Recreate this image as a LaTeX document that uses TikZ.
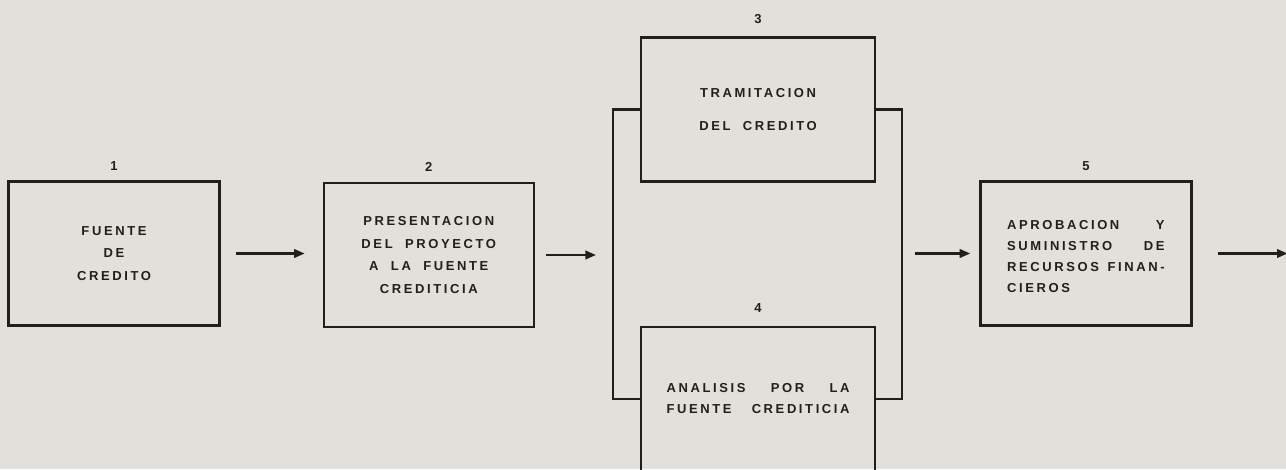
\documentclass[tikz,border=0pt]{standalone}
\usepackage{fontspec}
\newfontfamily\boxfont[LetterSpace=20, WordSpace=2]{Liberation Sans}
\usetikzlibrary{arrows.meta, positioning}

\definecolor{paper}{RGB}{226,224,218}
\definecolor{ink}{RGB}{32,31,29}

\begin{document}
\begin{tikzpicture}[
    node distance=2.1cm,
    stage/.style={rectangle, draw=ink, line width=1.3pt, minimum width=4.22cm, minimum height=2.88cm, align=center, text=ink, font=\boxfont\bfseries\fontsize{7.4}{13}\selectfont},
    wide/.style={stage, minimum width=4.68cm},
    num/.style={text=ink, inner sep=1pt, font=\boxfont\bfseries\fontsize{7.4}{9}\selectfont},
    arrow/.style={draw=ink, line width=1.2pt, -{Triangle[length=2.1mm, width=1.7mm]}},
    bracket/.style={draw=ink, line width=1.3pt}
    ]

    % Page
    \fill[paper] (0,0) rectangle (25.72,-9.38);
    \useasboundingbox (0,0) rectangle (25.72,-9.38);

    % Stages
    \node (fuente) [stage] at (2.28,-5.07) {FUENTE\\DE\\CREDITO};
    \node (present) [stage, right=2.04cm of fuente, yshift=-0.03cm, minimum width=4.2cm] {PRESENTACION\\DEL PROYECTO\\A LA FUENTE\\CREDITICIA};
    \node (tramite) [wide, right=2.1cm of present, yshift=2.91cm] {TRAMITACION\\[6pt]DEL CREDITO};
    \node (analisis) [wide, below=2.86cm of tramite, text width=3.66cm, align=left] {ANALISIS\hfill POR\hfill LA\\[-1pt]FUENTE\hfill CREDITICIA};
    \node (aprob) [stage, anchor=west, text width=3.15cm, align=left] at ([xshift=2.06cm]analisis.east |- fuente.east) {\rule{0pt}{9pt}APROBACION\hfill Y\\[-1pt]SUMINISTRO\hfill DE\\[-1pt]RECURSOS\hfill FINAN-\\[-1pt]CIEROS};

    % Numbers
    \node (n1) [num, above=0.16cm of fuente] {1};
    \node (n2) [num, above=0.16cm of present] {2};
    \node (n3) [num, above=0.22cm of tramite] {3};
    \node (n4) [num, above=0.22cm of analisis] {4};
    \node (n5) [num, above=0.16cm of aprob] {5};

    % Brackets round 3 and 4
    \draw [bracket] (tramite.west) -- ++(-0.54,0) coordinate (joinL) |- (analisis.west);
    \draw [bracket] (tramite.east) -- ++(0.52,0) coordinate (joinR) |- (analisis.east);

    % Arrows
    \coordinate [right=1.9cm of aprob] (salida);
    \draw [arrow, shorten <=0.3cm, shorten >=0.36cm] (fuente.east) -- (fuente.east -| present.west);
    \draw [arrow, shorten <=0.22cm, shorten >=0.34cm] (present.east) -- (present.east -| joinL);
    \draw [arrow, shorten <=0.26cm, shorten >=0.18cm] (joinR |- aprob.west) -- (aprob.west);
    \draw [arrow, shorten <=0.5cm] (aprob) -- (salida);

\end{tikzpicture}
\end{document}
